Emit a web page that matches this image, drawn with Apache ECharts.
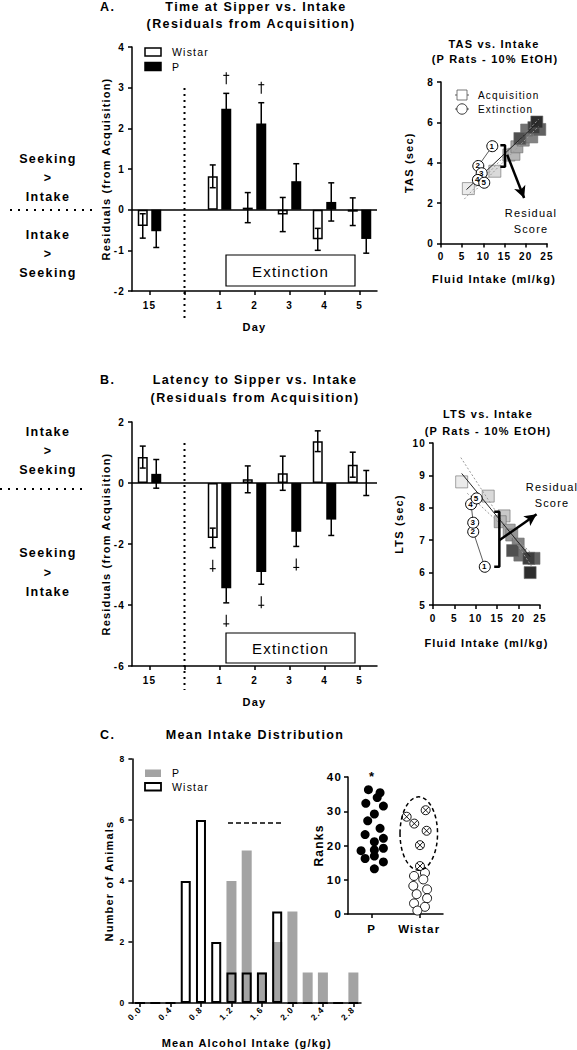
<!DOCTYPE html>
<html><head><meta charset="utf-8">
<script src="https://cdn.jsdelivr.net/npm/echarts@6/dist/echarts.min.js"></script>
<style>
html,body{margin:0;padding:0;background:#fff;}
#c{width:577px;height:1050px;}
#c svg text{letter-spacing:1.2px;}
#c svg text[style*="12.5px"]{letter-spacing:1.4px;}
</style></head><body><div id="c"></div>
<script>
// ---------- DATA ----------
const days = ['15', '', '1', '2', '3', '4', '5'];
const tasWistarMean = [-0.40, null, 0.82, 0.05, -0.12, -0.73, -0.05];
const tasWistarSem  = [0.30, null, 0.28, 0.37, 0.42, 0.27, 0.34];
const tasWistarMarks = [0, 0, 0, 0, 0, 0, 0];
const tasPMean = [-0.53, null, 2.48, 2.12, 0.70, 0.19, -0.72];
const tasPSem  = [0.40, null, 0.38, 0.51, 0.43, 0.47, 0.35];
const tasPMarks = [0, 0, 1, 1, 0, 0, 0];

const latWistarMean = [0.85, null, -1.80, 0.12, 0.32, 1.37, 0.60];
const latWistarSem  = [0.36, null, 0.32, 0.44, 0.56, 0.34, 0.41];
const latWistarMarks = [0, 0, -1, 0, 0, 0, 0];
const latPMean = [0.30, null, -3.45, -2.92, -1.60, -1.20, 0.00];
const latPSem  = [0.47, null, 0.48, 0.40, 0.48, 0.52, 0.41];
const latPMarks = [0, 0, -1, -1, -1, 0, 0];

const tasAcqX = [6.45, 12.7, 16.0, 17.2, 17.9, 19.4, 21.4, 20.2, 23.3, 18.6, 21.9, 22.6];
const tasAcqY = [2.72, 3.58, 4.38, 4.42, 4.79, 5.12, 5.28, 5.62, 5.65, 5.20, 5.74, 6.02];
const tasExtX = [12.1, 8.8, 9.6, 8.7, 10.2];
const tasExtY = [4.82, 3.84, 3.48, 3.15, 3.01];
const tasFitX = [6, 23];   const tasFitY = [2.67, 6.03];
const tasCiAX = [5.5, 23]; const tasCiAY = [2.20, 6.15];
const tasCiBX = [7, 23];   const tasCiBY = [2.40, 5.80];
const tasBracketX = [14.0, 15.1, 15.1, 14.0]; const tasBracketY = [4.87, 4.87, 3.80, 3.80];
const tasArrowX = [15.6, 19.6]; const tasArrowY = [4.40, 2.25];

const latAcqX = [6.7, 12.9, 16.6, 15.7, 17.8, 18.4, 19.9, 20.3, 23.6, 18.6, 22.4, 22.7];
const latAcqY = [8.80, 8.36, 7.75, 7.57, 7.31, 7.16, 6.88, 6.54, 6.44, 6.68, 6.44, 6.00];
const latExtX = [12.1, 9.4, 9.4, 8.9, 10.2];
const latExtY = [6.18, 7.26, 7.54, 8.11, 8.29];
const latFitX = [6.7, 22.7]; const latFitY = [9.06, 6.49];
const latCiAX = [6.5, 23];   const latCiAY = [9.55, 6.20];
const latCiBX = [8, 23];     const latCiBY = [8.45, 6.60];
const latBracketX = [14.3, 15.5, 15.5, 14.3]; const latBracketY = [7.88, 7.88, 6.18, 6.18];
const latArrowX = [15.5, 24.2]; const latArrowY = [7.00, 7.80];

const binLabels = ['0.0','0.2','0.4','0.6','0.8','1.0','1.2','1.4','1.6','1.8','2.0','2.2','2.4','2.6','2.8'];
const histP      = [0,0,0,0,0,0,4,5,1,2,3,1,1,0,1];
const histWistar = [0,0,0,4,6,2,1,1,1,3,0,0,0,0,0];

const rankGroups = ['P', 'Wistar'];
const rankPX = [0.86,1.35,1.23,0.75,1.49,1.11,0.83,1.35,0.72,1.49,1.11,1.49,0.55,1.11,0.72,1.11,1.49,1.11];
const rankPY = [36.3,35.4,34.0,32.3,31.5,29.2,27.2,25.0,23.2,22.1,21.1,19.2,18.5,18.7,16.2,16.9,15.2,13.2];
const rankWxX = [2.47,2.79,3.27,3.31,3.03,3.03];
const rankWxY = [28.4,26.4,30.3,24.3,20.1,14.0];
const rankWoX = [3.24,2.78,3.17,2.75,3.33,2.89,3.33,2.78,3.24,2.92];
const rankWoY = [12.0,11.1,10.1,8.2,7.2,5.8,4.6,3.1,2.1,1.0];
const ellipseCenter = [2.98, 23.5];
const ellipseRadii = [0.79, 10.7];

// ---------- HELPERS ----------
const FF = 'Liberation Sans, Arial, sans-serif';
const zip = (xs, ys) => xs.map((x, i) => [x, ys[i]]);
function axisCommon(o) {
  return Object.assign({
    axisLine: {show: true, onZero: false, lineStyle: {color: '#000', width: 1.5}},
    axisTick: {show: true, length: 4, lineStyle: {color: '#000', width: 1.5}},
    splitLine: {show: false},
    nameLocation: 'middle',
    nameTextStyle: {color: '#000', fontFamily: FF, fontWeight: 'bold', fontSize: 11},
  }, o);
}
function lbl(size, margin, extra) {
  return Object.assign({color: '#000', fontFamily: FF, fontWeight: 'bold', fontSize: size, margin: margin}, extra || {});
}
function txt(text, x, y, size, bold, align) {
  return {type: 'text', x: x, y: y, silent: true, z: 50,
    style: {text: text, font: (bold === false ? '' : 'bold ') + size + 'px ' + FF, fill: '#000',
      textAlign: align || 'center', textVerticalAlign: 'middle'}};
}
// dagger glyph drawn as strokes; dir = 1 upright, -1 inverted
function dagger(x, y, dir) {
  const s = {stroke: '#000', lineWidth: 1.1};
  return [
    {type: 'line', shape: {x1: x, y1: y - 6 * dir, x2: x, y2: y + 6 * dir}, style: s},
    {type: 'line', shape: {x1: x - 3, y1: y - 3 * dir, x2: x + 3, y2: y - 3 * dir}, style: s}
  ];
}
const BW = 10, GAP = 3.5, OFF = (BW + GAP) / 2;
function errSeries(axis, means, sems, marks, offset) {
  return {
    type: 'custom', xAxisIndex: axis, yAxisIndex: axis, z: 6, silent: true,
    itemStyle: {color: '#000'},
    data: means.map((m, i) => [i, m, sems[i], marks[i]]).filter(d => d[1] != null),
    renderItem: function (params, api) {
      const i = api.value(0), m = api.value(1), s = api.value(2), mk = api.value(3);
      const hi = api.coord([i, m + s]), lo = api.coord([i, m - s]);
      const x = hi[0] + offset, ls = {stroke: '#000', lineWidth: 1.5};
      let ch = [
        {type: 'line', shape: {x1: x, y1: hi[1], x2: x, y2: lo[1]}, style: ls},
        {type: 'line', shape: {x1: x - 3, y1: hi[1], x2: x + 3, y2: hi[1]}, style: ls},
        {type: 'line', shape: {x1: x - 3, y1: lo[1], x2: x + 3, y2: lo[1]}, style: ls}
      ];
      if (mk > 0) ch = ch.concat(dagger(x, hi[1] - 15, 1));
      if (mk < 0) ch = ch.concat(dagger(x, lo[1] + 18, -1));
      return {type: 'group', children: ch};
    }
  };
}
function barPair(axis, wMean, pMean) {
  return [
    {type: 'bar', name: 'Wistar', xAxisIndex: axis, yAxisIndex: axis, data: wMean, barWidth: BW, barGap: (GAP / BW * 100) + '%',
      itemStyle: {color: '#fff', borderColor: '#000', borderWidth: 1.5}, z: 3,
      markLine: {silent: true, symbol: 'none', label: {show: false}, lineStyle: {color: '#000', width: 1.5, type: 'solid'}, data: [{yAxis: 0}], z: 2}},
    {type: 'bar', name: 'P', xAxisIndex: axis, yAxisIndex: axis, data: pMean, barWidth: BW, barGap: (GAP / BW * 100) + '%',
      itemStyle: {color: '#000'}, z: 3}
  ];
}
function grayFor(i, n) { const v = Math.round(235 - i * (235 - 45) / (n - 1)); return 'rgb(' + v + ',' + v + ',' + v + ')'; }
function scatterPanel(axis, acqX, acqY, extX, extY, fitX, fitY, ciAX, ciAY, ciBX, ciBY, brX, brY, arX, arY) {
  const n = acqX.length;
  return [
    {type: 'scatter', xAxisIndex: axis, yAxisIndex: axis, symbol: 'rect', symbolSize: 12, z: 2,
      data: acqX.map((x, i) => ({value: [x, acqY[i]], itemStyle: {color: grayFor(i, n), borderColor: '#6a6a6a', borderWidth: 0.6, opacity: 1}}))},
    {type: 'line', xAxisIndex: axis, yAxisIndex: axis, data: zip(ciAX, ciAY), showSymbol: false, z: 3, lineStyle: {color: '#9a9a9a', width: 1, type: [2, 2]}},
    {type: 'line', xAxisIndex: axis, yAxisIndex: axis, data: zip(ciBX, ciBY), showSymbol: false, z: 3, lineStyle: {color: '#9a9a9a', width: 1, type: [2, 2]}},
    {type: 'line', xAxisIndex: axis, yAxisIndex: axis, data: zip(fitX, fitY), showSymbol: false, z: 3, lineStyle: {color: '#222', width: 1}},
    {type: 'line', xAxisIndex: axis, yAxisIndex: axis, data: zip(extX, extY), symbol: 'circle', symbolSize: 11, showSymbol: true, z: 4,
      lineStyle: {color: '#333', width: 0.8}, itemStyle: {color: '#fff', borderColor: '#000', borderWidth: 1, opacity: 1},
      label: {show: true, position: 'inside', formatter: p => String(p.dataIndex + 1), fontSize: 8, fontWeight: 'bold', fontFamily: FF, color: '#000'}},
    {type: 'line', xAxisIndex: axis, yAxisIndex: axis, data: zip(brX, brY), showSymbol: false, z: 5,
      lineStyle: {color: '#000', width: 2.5},
      markLine: {silent: true, symbol: ['none', 'arrow'], symbolSize: [9, 12], label: {show: false},
        lineStyle: {color: '#000', width: 2.5, type: 'solid'},
        data: [[{coord: [arX[0], arY[0]]}, {coord: [arX[1], arY[1]]}]]}}
  ];
}
const crossCircle = 'path://M0,-10A10,10 0 1,1 0,10A10,10 0 1,1 0,-10Z M-7,-7L7,7 M7,-7L-7,7';

// ---------- OPTION ----------
const option = {
  backgroundColor: '#fff',
  animation: false,
  grid: [
    {left: 132, top: 47, width: 245, height: 244},
    {left: 441, top: 82, width: 106, height: 161.5},
    {left: 132, top: 422, width: 245, height: 244},
    {left: 433, top: 443, width: 107, height: 162},
    {left: 132.4, top: 759, width: 228.6, height: 244},
    {left: 348, top: 777, width: 95, height: 137}
  ],
  xAxis: [
    axisCommon({gridIndex: 0, type: 'category', data: days, axisTick: {show: true, alignWithLabel: true, length: 4, lineStyle: {color: '#000', width: 1.5}},
      axisLabel: lbl(10, 9), name: 'Day', nameGap: 30}),
    axisCommon({gridIndex: 1, type: 'value', min: 0, max: 25, interval: 5, axisLabel: lbl(10, 8), name: 'Fluid Intake (ml/kg)', nameGap: 30}),
    axisCommon({gridIndex: 2, type: 'category', data: days, axisTick: {show: true, alignWithLabel: true, length: 4, lineStyle: {color: '#000', width: 1.5}},
      axisLabel: lbl(10, 9), name: 'Day', nameGap: 30}),
    axisCommon({gridIndex: 3, type: 'value', min: 0, max: 25, interval: 5, axisLabel: lbl(10, 8), name: 'Fluid Intake (ml/kg)', nameGap: 32}),
    axisCommon({gridIndex: 4, type: 'category', data: binLabels,
      axisTick: {show: true, alignWithLabel: true, interval: 1, length: 4, lineStyle: {color: '#000', width: 1.5}},
      axisLabel: lbl(8.5, 5, {rotate: 45, interval: 1}), name: 'Mean Alcohol Intake (g/kg)', nameGap: 34}),
    axisCommon({gridIndex: 5, type: 'value', min: 0, max: 4,
      axisTick: {show: true, customValues: [1, 3], length: 4, lineStyle: {color: '#000', width: 1.5}},
      axisLabel: lbl(11.5, 9, {customValues: [1, 3], formatter: v => rankGroups[Math.round((v - 1) / 2)]})})
  ],
  yAxis: [
    axisCommon({gridIndex: 0, type: 'value', min: -2, max: 4, interval: 1, axisLabel: lbl(10, 7), name: 'Residuals (from Acquisition)', nameGap: 21}),
    axisCommon({gridIndex: 1, type: 'value', min: 0, max: 8, interval: 2, axisLabel: lbl(10, 7), name: 'TAS (sec)', nameGap: 27}),
    axisCommon({gridIndex: 2, type: 'value', min: -6, max: 2, interval: 2, axisLabel: lbl(10, 7), name: 'Residuals (from Acquisition)', nameGap: 21}),
    axisCommon({gridIndex: 3, type: 'value', min: 5, max: 10, interval: 1, axisLabel: lbl(10, 7), name: 'LTS (sec)', nameGap: 29}),
    axisCommon({gridIndex: 4, type: 'value', min: 0, max: 8, interval: 2, axisLabel: lbl(8.5, 7), name: 'Number of Animals', nameGap: 18}),
    axisCommon({gridIndex: 5, type: 'value', min: 0, max: 40, interval: 10, axisLabel: lbl(11.5, 6), name: 'Ranks', nameGap: 20,
      nameTextStyle: {color: '#000', fontFamily: FF, fontWeight: 'bold', fontSize: 12}})
  ],
  series: [].concat(
    barPair(0, tasWistarMean, tasPMean),
    [errSeries(0, tasWistarMean, tasWistarSem, tasWistarMarks, -OFF), errSeries(0, tasPMean, tasPSem, tasPMarks, OFF)],
    scatterPanel(1, tasAcqX, tasAcqY, tasExtX, tasExtY, tasFitX, tasFitY, tasCiAX, tasCiAY, tasCiBX, tasCiBY, tasBracketX, tasBracketY, tasArrowX, tasArrowY),
    barPair(2, latWistarMean, latPMean),
    [errSeries(2, latWistarMean, latWistarSem, latWistarMarks, -OFF), errSeries(2, latPMean, latPSem, latPMarks, OFF)],
    scatterPanel(3, latAcqX, latAcqY, latExtX, latExtY, latFitX, latFitY, latCiAX, latCiAY, latCiBX, latCiBY, latBracketX, latBracketY, latArrowX, latArrowY),
    [
      {type: 'bar', xAxisIndex: 4, yAxisIndex: 4, data: histP, barWidth: 10, barGap: '-100%', itemStyle: {color: '#a3a3a3'}, z: 2},
      {type: 'bar', xAxisIndex: 4, yAxisIndex: 4, data: histWistar, barWidth: 10, barGap: '-100%',
        itemStyle: {color: 'rgba(0,0,0,0)', borderColor: '#000', borderWidth: 2}, z: 3},
      {type: 'scatter', xAxisIndex: 5, yAxisIndex: 5, data: zip(rankPX, rankPY), symbol: 'circle', symbolSize: 9, itemStyle: {color: '#000', opacity: 1}},
      {type: 'scatter', xAxisIndex: 5, yAxisIndex: 5, data: zip(rankWxX, rankWxY), symbol: crossCircle, symbolSize: 9,
        itemStyle: {color: '#fff', borderColor: '#000', borderWidth: 0.9, opacity: 1}},
      {type: 'scatter', xAxisIndex: 5, yAxisIndex: 5, data: zip(rankWoX, rankWoY), symbol: 'circle', symbolSize: 9,
        itemStyle: {color: '#fff', borderColor: '#000', borderWidth: 0.9, opacity: 1}},
      {type: 'custom', xAxisIndex: 5, yAxisIndex: 5, silent: true, z: 4,
        data: [[ellipseCenter[0], ellipseCenter[1], ellipseRadii[0], ellipseRadii[1]]],
        renderItem: function (params, api) {
          const c = api.coord([api.value(0), api.value(1)]);
          const s = api.size([api.value(2), api.value(3)]);
          return {type: 'ellipse', shape: {cx: c[0], cy: c[1], rx: s[0], ry: s[1]},
            style: {fill: 'none', stroke: '#000', lineWidth: 1.5, lineDash: [4, 3]}};
        }}
    ]
  ),
  graphic: [
    txt('A.', 100, 7, 12.5, true, 'left'),
    txt('Time at Sipper vs. Intake', 256, 7, 12.5),
    txt('(Residuals from Acquisition)', 251, 24, 12.5),
    txt('TAS vs. Intake', 494, 44, 11),
    txt('(P Rats - 10% EtOH)', 495, 59, 11),
    txt('B.', 100, 380, 12.5, true, 'left'),
    txt('Latency to Sipper vs. Intake', 255, 380, 12.5),
    txt('(Residuals from Acquisition)', 255, 398, 12.5),
    txt('LTS vs. Intake', 488, 414, 11),
    txt('(P Rats - 10% EtOH)', 488, 431, 11),
    txt('C.', 100, 735, 12.5, true, 'left'),
    txt('Mean Intake Distribution', 255, 735, 12.5),
    txt('Seeking', 48, 159, 12.5), txt('>', 48, 178, 12.5), txt('Intake', 48, 197, 12.5),
    {type: 'line', silent: true, shape: {x1: 10, y1: 210, x2: 92, y2: 210}, style: {stroke: '#000', lineWidth: 2, lineDash: [2, 6]}},
    txt('Intake', 48, 235, 12.5), txt('>', 48, 254, 12.5), txt('Seeking', 48, 273, 12.5),
    txt('Intake', 48, 432, 12.5), txt('>', 48, 451, 12.5), txt('Seeking', 48, 470, 12.5),
    {type: 'line', silent: true, shape: {x1: 0, y1: 489, x2: 82, y2: 489}, style: {stroke: '#000', lineWidth: 2, lineDash: [2, 6]}},
    txt('Seeking', 48, 553, 12.5), txt('>', 48, 573, 12.5), txt('Intake', 48, 592, 12.5),
    {type: 'line', silent: true, shape: {x1: 184.5, y1: 88, x2: 184.5, y2: 318}, style: {stroke: '#000', lineWidth: 2, lineDash: [2, 4]}},
    {type: 'line', silent: true, shape: {x1: 184.5, y1: 443, x2: 184.5, y2: 690}, style: {stroke: '#000', lineWidth: 2, lineDash: [2, 4]}},
    {type: 'rect', silent: true, shape: {x: 226, y: 255, width: 129, height: 31}, style: {fill: '#fff', stroke: '#000', lineWidth: 1.2}, z: 20},
    txt('Extinction', 290.5, 271, 15, false),
    {type: 'rect', silent: true, shape: {x: 226, y: 633, width: 129, height: 30}, style: {fill: '#fff', stroke: '#000', lineWidth: 1.2}, z: 20},
    txt('Extinction', 290.5, 648.5, 15, false),
    {type: 'rect', silent: true, shape: {x: 145, y: 48, width: 16, height: 8}, style: {fill: '#fff', stroke: '#000', lineWidth: 1.5}},
    txt('Wistar', 172, 52, 10.5, false, 'left'),
    {type: 'rect', silent: true, shape: {x: 145, y: 62.5, width: 16, height: 8}, style: {fill: '#000', stroke: '#000', lineWidth: 1.5}},
    txt('P', 172, 67, 10.5, false, 'left'),
    {type: 'line', silent: true, shape: {x1: 455, y1: 95, x2: 469, y2: 95}, style: {stroke: '#333', lineWidth: 0.8}},
    {type: 'rect', silent: true, shape: {x: 457, y: 90, width: 10, height: 10}, style: {fill: '#fff', stroke: '#555', lineWidth: 0.8}},
    txt('Acquisition', 478, 95, 10, false, 'left'),
    {type: 'line', silent: true, shape: {x1: 455, y1: 109, x2: 469, y2: 109}, style: {stroke: '#333', lineWidth: 0.8}},
    {type: 'circle', silent: true, shape: {cx: 462, cy: 109, r: 5.2}, style: {fill: '#fff', stroke: '#000', lineWidth: 0.8}},
    txt('Extinction', 478, 109, 10, false, 'left'),
    txt('Residual', 531, 213, 11, false), txt('Score', 531, 229, 11, false),
    txt('Residual', 552, 487, 11, false), txt('Score', 552, 503, 11, false),
    {type: 'rect', silent: true, shape: {x: 145, y: 769.5, width: 16, height: 7.5}, style: {fill: '#a3a3a3'}},
    txt('P', 172, 773, 10.5, false, 'left'),
    {type: 'rect', silent: true, shape: {x: 145, y: 783, width: 16, height: 7.5}, style: {fill: '#fff', stroke: '#000', lineWidth: 1.8}},
    txt('Wistar', 172, 787, 10.5, false, 'left'),
    {type: 'line', silent: true, shape: {x1: 228, y1: 823, x2: 282, y2: 823}, style: {stroke: '#000', lineWidth: 1.5, lineDash: [5, 3]}},
    txt('*', 372, 776, 13, true)
  ]
};
const chart = echarts.init(document.getElementById('c'), null, {renderer: 'svg', width: 577, height: 1050});
chart.setOption(option);
</script>
</body></html>
